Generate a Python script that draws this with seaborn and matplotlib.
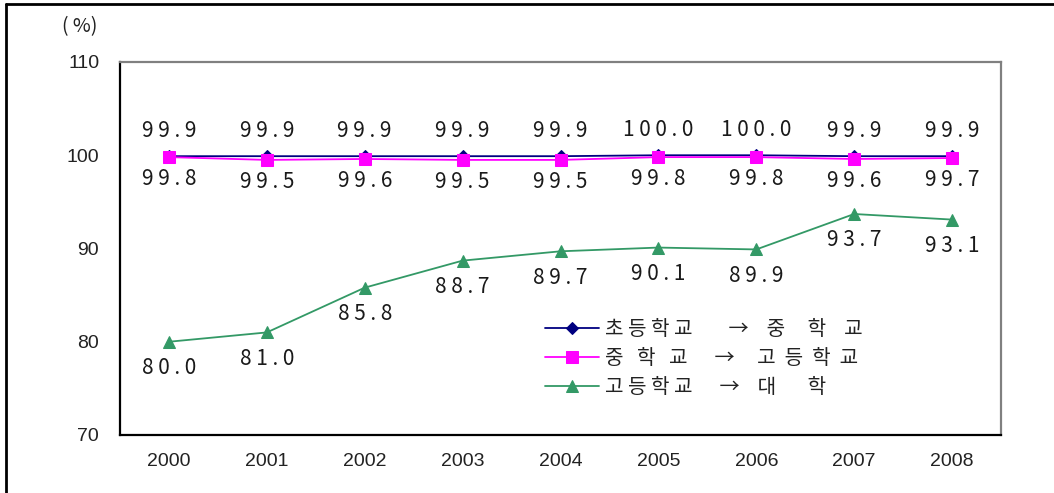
import pandas as pd
import matplotlib.pyplot as plt
import seaborn as sns
from matplotlib.lines import Line2D

# Data
years = ["2000", "2001", "2002", "2003", "2004", "2005", "2006", "2007", "2008"]
elem_to_mid = [99.9, 99.9, 99.9, 99.9, 99.9, 100.0, 100.0, 99.9, 99.9]
mid_to_high = [99.8, 99.5, 99.6, 99.5, 99.5, 99.8, 99.8, 99.6, 99.7]
high_to_univ = [80.0, 81.0, 85.8, 88.7, 89.7, 90.1, 89.9, 93.7, 93.1]
series_names = ["초 등 학 교        →    중     학    교",
                "중   학   교      →     고  등  학  교",
                "고 등 학 교      →    대       학"]

sns.set_style("white")
plt.rcParams['font.family'] = ['Noto Sans CJK KR', 'DejaVu Sans']

df = pd.DataFrame({"pos": list(range(len(years))) * 3,
                   "value": elem_to_mid + mid_to_high + high_to_univ,
                   "series": [series_names[0]] * 9 + [series_names[1]] * 9 + [series_names[2]] * 9})

fig = plt.figure(figsize=(10.54, 4.93), dpi=100)
ax = fig.add_axes([120 / 1054, 58 / 493, 881 / 1054, 373 / 493])

palette = {series_names[0]: "#000080", series_names[1]: "#FF00FF", series_names[2]: "#339966"}
markers = {series_names[0]: "D", series_names[1]: "s", series_names[2]: "^"}
sizes = {series_names[0]: 6.5, series_names[1]: 8, series_names[2]: 8.5}

for name in series_names:
    sub = df[df["series"] == name]
    sns.lineplot(data=sub, x="pos", y="value", color=palette[name], marker=markers[name],
                 markersize=sizes[name], markeredgecolor=palette[name], linewidth=1.3,
                 ax=ax, label=name, zorder=3)

def spaced(v):
    return " ".join(f"{v:.1f}")

label_kw = dict(textcoords="offset points", ha="center", va="center", fontsize=15,
                color="#1a1a1a", family=['Noto Sans CJK KR', 'DejaVu Sans'])
for i, v in enumerate(elem_to_mid):
    ax.annotate(spaced(v), (i, v), xytext=(0, 18), **label_kw)
for i, v in enumerate(mid_to_high):
    ax.annotate(spaced(v), (i, v), xytext=(0, -16), **label_kw)
for i, v in enumerate(high_to_univ):
    ax.annotate(spaced(v), (i, v), xytext=(0, -19), **label_kw)

ax.set_xlim(-0.5, len(years) - 0.5)
ax.set_ylim(70, 110)
ax.set_yticks([70, 80, 90, 100, 110])
ax.set_xticks([i + 0.5 for i in range(len(years) - 1)])
ax.set_xticklabels([])
ax.set_xticks(range(len(years)), minor=True)
ax.set_xticklabels(years, minor=True, family="Liberation Sans", fontsize=14, color="#222222")
ax.tick_params(axis="x", which="major", direction="in", length=5, width=1, color="#555555")
ax.tick_params(axis="x", which="minor", length=0, pad=13)
ax.tick_params(axis="y", direction="in", length=7, width=1, color="black", pad=15,
               labelsize=14, labelcolor="#222222")
for lab in ax.get_yticklabels():
    lab.set_family("Liberation Sans")
ax.set_xlabel("")
ax.set_ylabel("")

ax.spines["left"].set_color("black")
ax.spines["bottom"].set_color("black")
ax.spines["left"].set_linewidth(1.6)
ax.spines["bottom"].set_linewidth(1.6)
ax.spines["top"].set_color("#808080")
ax.spines["right"].set_color("#808080")
ax.spines["top"].set_linewidth(1.6)
ax.spines["right"].set_linewidth(1.6)

fig.text(80 / 1054, 1 - 27 / 493, "( %)", ha="center", va="center", fontsize=14, color="#222222")

leg = ax.legend(loc="upper left", bbox_to_anchor=(0.482, 0.31), frameon=False, fontsize=14.5,
                handlelength=2.7, handletextpad=0.3, labelspacing=0.4, borderpad=0,
                borderaxespad=0)
for t in leg.get_texts():
    t.set_color("#222222")

# outer frame of the original picture
fig.add_artist(Line2D([6 / 1054, 1], [1 - 4 / 493, 1 - 4 / 493], color="black", linewidth=2,
                      transform=fig.transFigure))
fig.add_artist(Line2D([6 / 1054, 6 / 1054], [0, 1 - 4 / 493], color="black", linewidth=2,
                      transform=fig.transFigure))

fig.savefig("out.png", dpi=100)
